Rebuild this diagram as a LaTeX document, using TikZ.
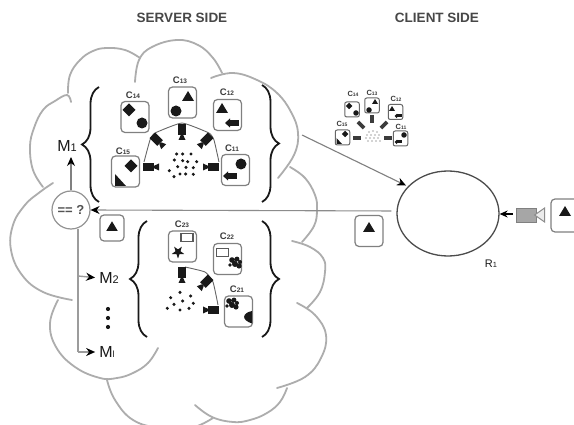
\documentclass[tikz,border=0pt]{standalone}
\usepackage{fontspec}
\setmainfont{Liberation Sans}
\usetikzlibrary{arrows.meta,decorations.pathreplacing,shapes.geometric}
\definecolor{cloudgray}{gray}{0.68}
\definecolor{cardgray}{gray}{0.5}
\definecolor{ink}{gray}{0.1}
\newcommand{\lab}[2]{#1{\fontsize{6.5}{6}\selectfont #2}}
\tikzset{
  cloudline/.style={draw=cloudgray,line width=1.8pt,line cap=round},
  card/.style={draw=cardgray,line width=1.2pt,rounded corners=4pt,fill=white,inner sep=0pt,minimum width=28pt,minimum height=31pt},
  smallcard/.style={draw=cardgray!80!black,line width=1pt,rounded corners=2pt,fill=white,inner sep=0pt,minimum width=14.5pt,minimum height=15pt},
  cardlabel/.style={font=\bfseries\fontsize{9.5}{10}\selectfont,text=ink!85,inner sep=0pt},
  smalllabel/.style={font=\bfseries\fontsize{7.5}{8}\selectfont,text=ink!85,inner sep=0pt},
  mlabel/.style={font=\fontsize{16}{17}\selectfont,text=ink,inner sep=0pt},
  header/.style={font=\bfseries\fontsize{13.5}{15}\selectfont,text=ink!80,inner sep=0pt},
  fov/.style={draw=black!60,line width=.9pt},
  bigbrace/.style={draw=ink,line width=1.8pt,decorate,decoration={brace,amplitude=17pt}},
  flow/.style={draw=black!50,line width=1.1pt,-{Stealth[length=9pt,width=8pt,black]}},
  tri/.pic={\fill[ink] (-6,4)--(6,4)--(0,-6)--cycle;},
  dia/.pic={\fill[ink] (-6.5,0)--(0,-6.5)--(6.5,0)--(0,6.5)--cycle;},
  bal/.pic={\fill[ink] (0,0) circle (5.5);},
  corner/.pic={\fill[ink] (-5,-6)--(6,6)--(-5,6)--cycle;},
  arr/.pic={\fill[ink] (-2,-3) rectangle (7,3);\fill[ink] (-7,0)--(-2,-4.5)--(-2,4.5)--cycle;},
  str/.pic={\fill[ink] (90:6.5)--(126:2.6)--(162:6.5)--(198:2.6)--(234:6.5)--(270:2.6)--(306:6.5)--(342:2.6)--(18:6.5)--(54:2.6)--cycle;},
  blb/.pic={\fill[ink] (-3,-3) circle (2.8) (2,-4) circle (2.4) (0,1) circle (3) (4,3) circle (2.6) (-5,2) circle (1.8) (5,-1) circle (2);},
  qrt/.pic={\fill[ink] (5,-6) .. controls (-5,-4) and (-6,3) .. (5,6.5) -- cycle;},
  scr/.pic={\draw[draw=black!65,line width=1.1pt,fill=white] (-6,-4) rectangle (6,4);},
  cam/.pic={\fill[ink] (-8,-4) rectangle (3,4);\fill[ink] (3,-1.2)--(8,-3.5)--(8,3.5)--(3,1.2)--cycle;},
  minicam/.pic={\fill[ink!85] (-8,-3.5) rectangle (8,3.5);},
}
\begin{document}
\begin{tikzpicture}[x=1pt,y=-1pt]
\useasboundingbox (0,0) rectangle (574,425);
\clip (0,0) rectangle (574,425);
\fill[white] (0,0) rectangle (574,425);

% headers
\node[header] (hs) at (182,18) {SERVER SIDE};
\node[header] (hc) at (437,18) {CLIENT SIDE};

% cloud outline
\draw[cloudline] plot[smooth,tension=.7] coordinates {(43,187) (33,170) (30,147) (34,128) (43,110) (55,101) (67,95) (71,102)};
\draw[cloudline] plot[smooth,tension=.7] coordinates {(68,93) (70,75) (80,60) (93,51) (107,48) (125,50) (140,58)};
\draw[cloudline] plot[smooth,tension=.7] coordinates {(135,82) (139,60) (152,47) (177,40) (198,45) (213,58) (222,73)};
\draw[cloudline] plot[smooth,tension=.7] coordinates {(211,78) (233,73) (257,80) (277,93) (291,112) (298,133) (294,155) (278,178)};
\draw[cloudline] plot[smooth,tension=.7] coordinates {(290,167) (305,178) (315,195) (317,210) (314,226) (302,242)};
\draw[cloudline] plot[smooth,tension=.7] coordinates {(292,241) (310,247) (323,258) (325,272) (320,292) (307,308)};
\draw[cloudline] plot[smooth,tension=.7] coordinates {(297,303) (315,315) (326,335) (321,358) (305,377) (277,388)};
\draw[cloudline] plot[smooth,tension=.7] coordinates {(287,388) (280,402) (267,413) (250,420) (233,422) (212,417) (195,405)};
\draw[cloudline] plot[smooth,tension=.7] coordinates {(213,418) (200,425) (187,428) (160,428) (133,420) (115,400) (107,380)};
\draw[cloudline] plot[smooth,tension=.7] coordinates {(158,348) (148,363) (133,373) (117,378) (100,378) (75,367) (56,347) (50,323) (58,300)};
\draw[cloudline] plot[smooth,tension=.7] coordinates {(72,300) (43,292) (22,275) (11,250) (13,225) (25,205) (40,192) (53,183)};

% braces
\draw[bigbrace] (99,202) -- (99,87);
\draw[bigbrace] (262,85) -- (262,202);
\draw[bigbrace] (147,337) -- (147,221);
\draw[bigbrace] (262,221) -- (262,337);

% first model: field-of-view arc
\draw[fov] plot[smooth,tension=.25] coordinates {(144,162) (150,140) (155,133) (182,123) (209,133) (214,140) (219,162)};
\pic at (151,167) {cam};
\pic[rotate=180] at (211,167) {cam};
\pic[rotate=-90] at (182,132) {cam};
\pic[rotate=-45] at (158,141) {cam};
\pic[rotate=-135] at (205,141) {cam};
\foreach \x/\y in {530/372,548/372,573/372,523/390,563/395,590/395,548/392,533/410,558/412,580/413,508/422,540/432,557/432,580/433,522/440}
  \fill[ink] ({\x/3},{\y/3+30}) circle (1.7);

% first model: cards
\node[card] (c14) at (135,117) {};
\node[card] (c13) at (182.5,102.5) {};
\node[card] (c12) at (227.5,115) {};
\node[card] (c15) at (125.5,171.5) {};
\node[card] (c11) at (235.5,170) {};
\node[cardlabel] (l14) at (133,95) {\lab{C}{14}};
\node[cardlabel] (l13) at (180,80) {\lab{C}{13}};
\node[cardlabel] (l12) at (227,92) {\lab{C}{12}};
\node[cardlabel] (l15) at (123,151) {\lab{C}{15}};
\node[cardlabel] (l11) at (232,148) {\lab{C}{11}};
\pic at (129,110) {dia}; \pic at (142,123) {bal};
\pic at (188,97) {tri};  \pic at (176,111) {bal};
\pic at (222,109) {tri}; \pic at (232,123) {arr};
\pic at (131,166) {dia}; \pic at (120,180) {corner};
\pic at (241,164) {bal}; \pic at (230,176) {arr};

% second model
\draw[fov] plot[smooth,tension=.3] coordinates {(185,267) (205,272) (213,282) (218,305)};
\pic[rotate=-90] at (182,275) {cam};
\pic[rotate=-135] at (205,283) {cam};
\pic[rotate=180] at (211,310) {cam};
\foreach \x/\y in {540/277,512/293,572/288,522/313,548/303,580/310,502/325,540/330,567/325}
  \fill[ink] ({\x/3},{\y/3+200}) circle (1.7);
\node[card] (c23) at (182.5,246.5) {};
\node[card] (c22) at (227.5,259) {};
\node[card] (c21) at (238.5,311.5) {};
\node[cardlabel] (l23) at (182,224) {\lab{C}{23}};
\node[cardlabel] (l22) at (227,236) {\lab{C}{22}};
\node[cardlabel] (l21) at (237,289) {\lab{C}{21}};
\pic at (187,237.5) {scr}; \pic at (178,252) {str};
\pic at (222.5,252.5) {scr}; \pic at (235,263) {blb};
\pic at (232,304) {blb}; \pic at (247,317) {qrt};

% matcher and models
\node[draw=cloudgray!85!black,line width=1.2pt,circle,minimum size=38pt,inner sep=0pt,fill=white,font=\bfseries\fontsize{13}{14}\selectfont,text=ink!75] (match) at (71,210) {== ?};
\node[mlabel] (m1) at (67,146) {M{\fontsize{11}{11}\selectfont 1}};
\node[mlabel] (m2) at (109,278) {M{\fontsize{11}{11}\selectfont 2}};
\node[mlabel] (ml) at (107,352) {M{\fontsize{9}{9}\selectfont l}};
\draw[flow] (match.north) -- (71,157);
\coordinate (trunk) at (78,229);
\coordinate (j2) at (78,276);
\coordinate (j3) at (78,352);
\draw[draw=cloudgray!90!black,line width=1.4pt] (trunk) -- (j3);
\draw[flow,draw=cloudgray!90!black,line width=1.4pt,shorten >=4pt] (j2) -- (m2.west);
\draw[flow,draw=cloudgray!90!black,line width=1.4pt,shorten >=4pt] (j3) -- (ml.west);
\fill[ink] (108,309) circle (2.1) (108,318) circle (2.1) (108,327) circle (2.1);

% query tokens
\node[card,minimum width=24pt,minimum height=26pt] (t1) at (112,228) {};
\pic[scale=.95] at (112,227) {tri};
\node[card] (t2) at (369,231) {};
\pic at (369,228) {tri};
\node[card,minimum height=33pt] (t3) at (565,215.5) {};
\pic at (565,212) {tri};

% client side
\node[draw=black!70,line width=1.3pt,ellipse,minimum width=102pt,minimum height=85pt,inner sep=0pt] (r1) at (448,213.5) {};
\node[font=\fontsize{11}{12}\selectfont,text=ink,inner sep=0pt] (rl) at (491,264) {R{\fontsize{7.5}{8}\selectfont 1}};
\coordinate (cloudout) at (302,135);
\draw[flow,shorten >=2pt] (cloudout) -- (r1.146);
\draw[flow,draw=black!45,line width=1.1pt,shorten <=5pt] (r1.west |- 0,211) -- (match.east);
\node[draw=black!50,fill=black!35,line width=.8pt,minimum width=20pt,minimum height=14pt,inner sep=0pt] (body) at (526,215) {};
\node[draw=black!45,fill=black!8,line width=1pt,isosceles triangle,isosceles triangle apex angle=70,shape border rotate=180,inner sep=0pt,minimum size=10pt] (lens) at (541,215) {};
\draw[-{Stealth[length=8pt,width=7pt,black]},black,line width=1.1pt] (body.west) ++(-3,-1) -- (r1.east |- 0,214);

% client cluster
\node[smallcard] (s14) at (352,109.5) {};
\node[smallcard] (s13) at (372,105.5) {};
\node[smallcard] (s12) at (395.5,112) {};
\node[smallcard] (s15) at (342.5,137.5) {};
\node[smallcard] (s11) at (400.5,138.5) {};
\node[smalllabel] (ls14) at (353,94) {C{\fontsize{5}{5}\selectfont 14}};
\node[smalllabel] (ls13) at (372,93) {C{\fontsize{5}{5}\selectfont 13}};
\node[smalllabel] (ls12) at (396,99) {C{\fontsize{5}{5}\selectfont 12}};
\node[smalllabel] (ls15) at (342,124) {C{\fontsize{5}{5}\selectfont 15}};
\node[smalllabel] (ls11) at (401,127) {C{\fontsize{5}{5}\selectfont 11}};
\pic[scale=.5] at (349,106) {dia}; \pic[scale=.5] at (356,113) {bal};
\pic[scale=.5] at (375,102) {tri}; \pic[scale=.5] at (369,110) {bal};
\pic[scale=.5] at (392,109) {tri}; \pic[scale=.5] at (398,116) {arr};
\pic[scale=.5] at (345,134) {dia}; \pic[scale=.5] at (339,141) {corner};
\pic[scale=.5] at (404,135) {bal}; \pic[scale=.5] at (398,142) {arr};
\pic[rotate=-45,scale=.55] at (361,125) {minicam};
\pic[rotate=-90,scale=.55] at (372,119) {minicam};
\pic[rotate=-135,scale=.55] at (384,125) {minicam};
\pic[scale=.5] at (357,138) {minicam};
\pic[rotate=180,scale=.5] at (388,138) {minicam};
\foreach \x/\y in {369/132,373/131,377/132,367/135,371/135,375/135,379/135,366/138,370/138,374/138,378/138,368/141,372/141,376/141,380/141}
  \fill[ink!80] (\x,\y) circle (.7);
\end{tikzpicture}
\end{document}
